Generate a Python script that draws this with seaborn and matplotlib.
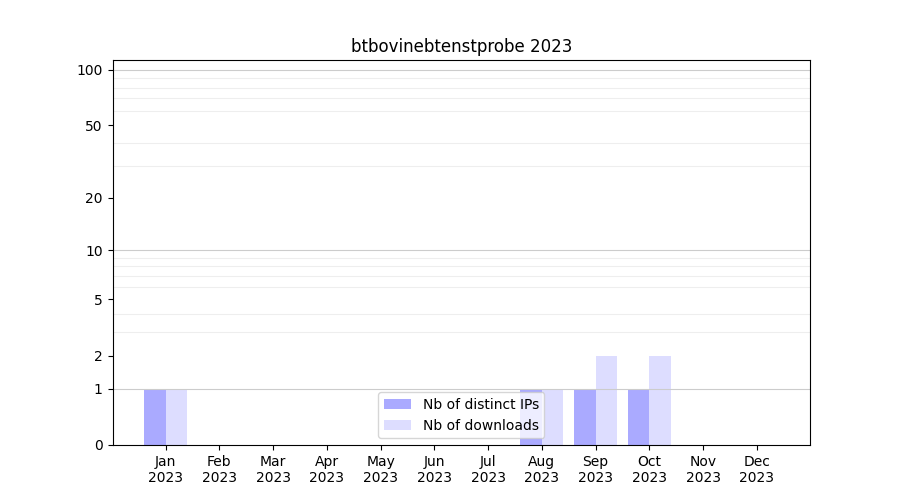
import numpy as np
import pandas as pd
import matplotlib
matplotlib.use("Agg")
import matplotlib.pyplot as plt
import seaborn as sns

months = ["Jan\n2023", "Feb\n2023", "Mar\n2023", "Apr\n2023", "May\n2023", "Jun\n2023",
          "Jul\n2023", "Aug\n2023", "Sep\n2023", "Oct\n2023", "Nov\n2023", "Dec\n2023"]
distinct_ips = [1, 0, 0, 0, 0, 0, 0, 1, 1, 1, 0, 0]
downloads = [1, 0, 0, 0, 0, 0, 0, 1, 2, 2, 0, 0]
series = ["Nb of distinct IPs", "Nb of downloads"]
colors = ["#aaaaff", "#ddddff"]
y_ticks = [0, 1, 2, 5, 10, 20, 50, 100]

# long form table for seaborn
df = pd.DataFrame({
    "month": months * 2,
    "value": distinct_ips + downloads,
    "series": [series[0]] * len(months) + [series[1]] * len(months),
})

fig, ax = plt.subplots(figsize=(9, 5), dpi=100)

# log(1+x) scale so zero is still shown
ax.set_yscale("function", functions=(lambda y: np.log10(1 + np.clip(y, -0.999, None)),
                                     lambda y: 10 ** y - 1))

sns.barplot(data=df, x="month", y="value", hue="series", palette=colors,
            saturation=1, linewidth=0, ax=ax)

ax.set_ylim(0, 113)
ax.set_xlim(-0.99, 11.99)
ax.set_yticks(y_ticks)
ax.set_yticklabels([str(t) for t in y_ticks])

# light grid on every unit of each decade, darker on the decades
minor = [v for d in (1, 10) for v in range(2 * d, 10 * d, d)]
ax.set_yticks(minor, minor=True)
ax.tick_params(axis="y", which="minor", length=0)
ax.grid(True, axis="y", which="minor", color="#eeeeee", linewidth=0.8)
for dec in (1, 10, 100):
    ax.axhline(dec, color="#cccccc", linewidth=0.8, zorder=1.5)

ax.set_xlabel("")
ax.set_ylabel("")
ax.set_title("btbovinebtenstprobe 2023")

h, l = ax.get_legend_handles_labels()
ax.legend(h, l, loc="lower center")

fig.savefig("out.png")
